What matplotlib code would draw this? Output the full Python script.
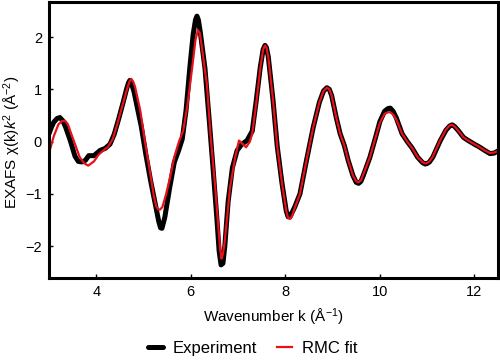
import matplotlib
matplotlib.use("Agg")
import matplotlib.pyplot as plt

plt.rcParams['font.family'] = ['Liberation Sans', 'DejaVu Sans']
plt.rcParams['mathtext.fontset'] = 'custom'
plt.rcParams['mathtext.rm'] = 'Liberation Sans'
plt.rcParams['mathtext.it'] = 'Liberation Sans:italic'

k_exp = [3.00, 3.05, 3.10, 3.17, 3.23, 3.29, 3.35, 3.45, 3.55, 3.62, 3.70, 3.77, 3.84,
         3.95, 4.08, 4.19, 4.29, 4.38, 4.47, 4.56, 4.64, 4.68, 4.71, 4.75, 4.80, 4.88,
         4.95, 5.05, 5.15, 5.25, 5.32, 5.36, 5.39, 5.45, 5.55, 5.65, 5.75, 5.82, 5.90,
         5.98, 6.05, 6.10, 6.13, 6.16, 6.20, 6.30, 6.40, 6.47, 6.55, 6.60, 6.64, 6.68,
         6.72, 6.79, 6.88, 6.98, 7.08, 7.19, 7.30, 7.38, 7.47, 7.53, 7.57, 7.60, 7.64,
         7.74, 7.83, 7.93, 8.02, 8.06, 8.10, 8.20, 8.31, 8.45, 8.59, 8.72, 8.81, 8.88,
         8.93, 8.98, 9.08, 9.16, 9.25, 9.33, 9.43, 9.50, 9.55, 9.60, 9.65, 9.79, 9.90,
         10.00, 10.10, 10.17, 10.22, 10.28, 10.35, 10.47, 10.58, 10.68, 10.80, 10.90,
         10.96, 11.00, 11.05, 11.12, 11.28, 11.40, 11.48, 11.53, 11.58, 11.65, 11.77,
         11.87, 12.00, 12.10, 12.22, 12.33, 12.42, 12.50]
chi_exp = [0.15, 0.27, 0.37, 0.44, 0.46, 0.40, 0.28, 0.02, -0.28, -0.38, -0.39, -0.36,
           -0.27, -0.27, -0.17, -0.13, -0.05, 0.14, 0.42, 0.72, 1.00, 1.12, 1.17, 1.10,
           0.95, 0.60, 0.30, -0.25, -0.75, -1.20, -1.52, -1.65, -1.66, -1.45, -0.90,
           -0.40, -0.15, 0.05, 0.60, 1.42, 2.05, 2.33, 2.40, 2.33, 2.10, 1.40, 0.30,
           -0.50, -1.45, -2.10, -2.36, -2.33, -2.00, -1.15, -0.50, -0.17, -0.05, 0.02,
           0.20, 0.75, 1.42, 1.76, 1.84, 1.80, 1.62, 0.79, -0.10, -0.80, -1.33, -1.44,
           -1.44, -1.25, -1.00, -0.35, 0.27, 0.75, 0.97, 1.03, 1.00, 0.88, 0.45, 0.15,
           -0.08, -0.36, -0.65, -0.78, -0.80, -0.76, -0.65, -0.30, 0.05, 0.38, 0.58,
           0.63, 0.64, 0.58, 0.45, 0.15, 0.00, -0.12, -0.30, -0.40, -0.43, -0.42, -0.39,
           -0.30, 0.02, 0.22, 0.30, 0.32, 0.29, 0.22, 0.08, 0.02, -0.05, -0.10, -0.17,
           -0.23, -0.22, -0.18]

k_fit = [3.00, 3.10, 3.20, 3.27, 3.34, 3.40, 3.45, 3.55, 3.65, 3.75, 3.83, 3.95, 4.05,
         4.15, 4.25, 4.35, 4.45, 4.55, 4.65, 4.70, 4.74, 4.78, 4.82, 4.93, 5.03, 5.14,
         5.22, 5.27, 5.31, 5.35, 5.40, 5.48, 5.56, 5.65, 5.75, 5.84, 5.93, 6.03, 6.10,
         6.15, 6.19, 6.22, 6.34, 6.42, 6.51, 6.58, 6.62, 6.65, 6.68, 6.72, 6.83, 6.94,
         7.02, 7.10, 7.17, 7.25, 7.30, 7.38, 7.47, 7.53, 7.57, 7.60, 7.64, 7.74, 7.83,
         7.93, 8.02, 8.06, 8.10, 8.14, 8.20, 8.31, 8.45, 8.59, 8.72, 8.81, 8.88, 8.93,
         8.98, 9.08, 9.16, 9.25, 9.33, 9.43, 9.50, 9.55, 9.60, 9.65, 9.79, 9.90, 10.00,
         10.10, 10.17, 10.22, 10.28, 10.35, 10.47, 10.58, 10.68, 10.80, 10.90, 10.96,
         11.00, 11.05, 11.12, 11.28, 11.40, 11.48, 11.53, 11.58, 11.65, 11.77, 11.87,
         12.00, 12.10, 12.22, 12.33, 12.42, 12.50]
chi_fit = [-0.22, 0.10, 0.33, 0.39, 0.40, 0.33, 0.20, -0.05, -0.30, -0.42, -0.46, -0.38,
           -0.25, -0.17, -0.10, 0.05, 0.35, 0.68, 1.00, 1.14, 1.20, 1.15, 1.05, 0.60,
           0.00, -0.60, -1.05, -1.24, -1.30, -1.30, -1.25, -1.00, -0.69, -0.30, 0.00,
           0.21, 0.70, 1.42, 1.95, 2.13, 2.08, 1.90, 1.10, 0.10, -0.80, -1.60, -2.05,
           -2.24, -2.15, -1.90, -0.88, -0.30, 0.02, -0.05, -0.11, 0.00, 0.15, 0.70, 1.40,
           1.76, 1.84, 1.80, 1.62, 0.79, -0.10, -0.80, -1.33, -1.46, -1.48, -1.43, -1.27,
           -1.00, -0.35, 0.27, 0.75, 0.97, 1.03, 1.00, 0.88, 0.45, 0.15, -0.08, -0.36,
           -0.65, -0.76, -0.78, -0.74, -0.63, -0.30, 0.05, 0.36, 0.53, 0.56, 0.56, 0.52,
           0.42, 0.15, 0.00, -0.12, -0.30, -0.39, -0.42, -0.41, -0.38, -0.29, 0.03, 0.23,
           0.31, 0.32, 0.29, 0.22, 0.08, 0.02, -0.05, -0.10, -0.17, -0.22, -0.21, -0.18]

x_ticks = [4, 6, 8, 10, 12]
y_ticks = [-2, -1, 0, 1, 2]

fig = plt.figure(figsize=(5.0, 3.64), dpi=100)
ax = fig.add_axes([0.098, 0.2363, 0.898, 0.7582])

ax.plot(k_exp, chi_exp, color='black', lw=3.6, label='Experiment',
        solid_joinstyle='round', solid_capstyle='round')
ax.plot(k_fit, chi_fit, color='#e8101a', lw=1.6, label='RMC fit',
        solid_joinstyle='round')

ax.set_xlim(3.0, 12.5)
ax.set_ylim(-2.61, 2.67)
ax.set_xticks(x_ticks)
ax.set_yticks(y_ticks)
ax.tick_params(direction='in', length=3, width=1, labelsize=10.5, pad=5)
for s in ax.spines.values():
    s.set_linewidth(2.2)

ax.set_xlabel('Wavenumber k (Å$^{-1}$)', fontsize=11, labelpad=6)
ax.set_ylabel(r'EXAFS $\mathrm{\chi}$(k)$k^2$ (Å$^{-2}$)', fontsize=11)
ax.yaxis.set_label_coords(-0.057, 0.49)

leg = fig.legend(loc='center', bbox_to_anchor=(0.505, 0.042), ncol=2, frameon=False,
                 fontsize=12, handlelength=0.9, columnspacing=1.2, handletextpad=0.6)

fig.savefig('out.png', dpi=100)
